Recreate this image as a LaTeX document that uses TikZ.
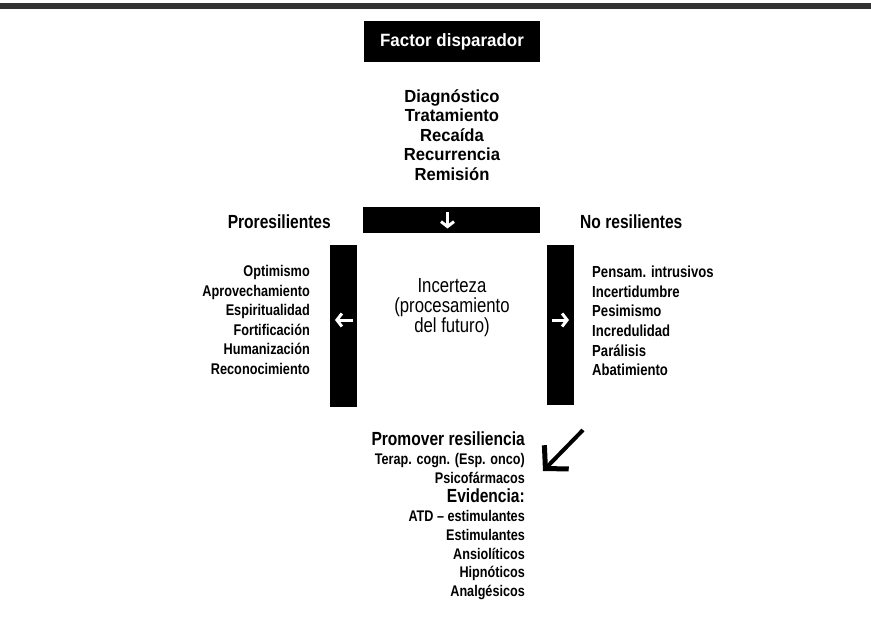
\documentclass[tikz,border=0pt]{standalone}
\usepackage{fontspec}
\setmainfont{Liberation Sans}[FakeStretch=0.82]
\newfontfamily\wide[FakeStretch=0.95]{Liberation Sans}
\usetikzlibrary{arrows.meta,calc}
\begin{document}
\begin{tikzpicture}[x=1pt,y=1pt,
  bar/.style={fill=black, inner sep=0},
  wt/.style={draw=white, line width=3pt, -{Straight Barb[length=5pt,width=13pt]}},
  lst/.style={inner sep=0, text=black},
  hdr/.style={inner sep=0, font=\bfseries\fontsize{19}{20}\selectfont}]
\useasboundingbox (0,0) rectangle (871,-637);
\fill[black!80] (0,-3) rectangle (871,-9);
% top box
\node[bar, minimum width=176pt, minimum height=41pt, text=white,
      font=\wide\bfseries\fontsize{17.8}{22}\selectfont] (fd) at (452,-41.5) {Factor disparador};
\node[lst, align=center, font=\wide\bfseries\fontsize{17.5}{19.5}\selectfont] (tl) at (452,-135)
  {Diagnóstico\\Tratamiento\\Recaída\\Recurrencia\\Remisión};
% down bar
\node[bar, minimum width=177pt, minimum height=26pt] (db) at (451.5,-220) {};
\draw[wt] ($(db.center)+(-4,8)$) -- ($(db.center)+(-4,-8.5)$);
% headers
\node[hdr, anchor=east] (pro) at (331,-222) {Proresilientes};
\node[hdr, anchor=west] (nor) at (580,-222) {No resilientes};
% side bars
\node[bar, minimum width=27pt, minimum height=162pt] (lb) at (343.5,-326) {};
\draw[wt] ($(lb.center)+(9,6)$) -- ($(lb.center)+(-8.5,6)$);
\node[bar, minimum width=27pt, minimum height=160pt] (rb) at (560.5,-325) {};
\draw[wt] ($(rb.center)+(-9,5)$) -- ($(rb.center)+(8.5,5)$);
% centre text
\node[lst, align=center, font=\fontsize{20.4}{20}\selectfont] (inc) at (452,-308)
  {Incerteza\\(procesamiento\\del futuro)};
% left list
\node[lst, anchor=east, align=right, font=\bfseries\fontsize{15.5}{19.6}\selectfont] (ll) at (310,-320)
  {Optimismo\\Aprovechamiento\\Espiritualidad\\Fortificación\\Humanización\\Reconocimiento};
% right list
\node[lst, anchor=west, align=left, font=\bfseries\fontsize{16}{19.6}\selectfont] (rl) at (592,-321)
  {Pensam. intrusivos\\Incertidumbre\\Pesimismo\\Incredulidad\\Parálisis\\Abatimiento};
% bottom list
\node[lst, anchor=east, align=right, font=\bfseries\fontsize{15.4}{18.9}\selectfont] (bl) at (525,-516)
  {{\fontsize{19}{18.9}\selectfont Promover resiliencia}\\Terap. cogn. (Esp. onco)\\Psicofármacos\\{\fontsize{19}{18.9}\selectfont Evidencia:}\\ATD – estimulantes\\Estimulantes\\Ansiolíticos\\Hipnóticos\\Analgésicos};
% diagonal arrow
\coordinate (d1) at (583,-430);
\coordinate (d2) at (543,-471);
\draw[line width=4pt, line join=miter, -{Straight Barb[length=16pt,width=34pt,line width=5pt,line join=miter]}] (d1) -- (d2);
\end{tikzpicture}
\end{document}
